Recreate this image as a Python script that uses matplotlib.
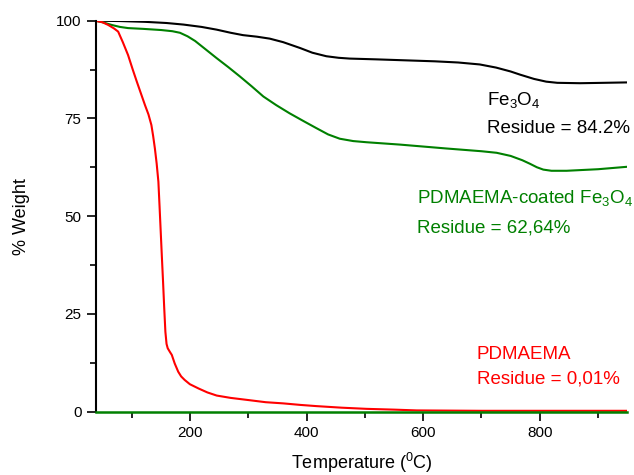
import matplotlib
matplotlib.use("Agg")
import matplotlib.pyplot as plt
from matplotlib.ticker import MultipleLocator

plt.rcParams['font.family'] = ['Liberation Sans', 'DejaVu Sans']
plt.rcParams['mathtext.fontset'] = 'custom'
plt.rcParams['mathtext.rm'] = 'Liberation Sans'
plt.rcParams['mathtext.it'] = 'Liberation Sans'

# Fe3O4 (black)
t_fe = [37, 80, 123, 160, 189, 220, 246, 270, 291, 315, 337, 360, 389, 410, 434, 455,
        474, 520, 560, 620, 660, 697, 725, 750, 766, 790, 811, 830, 869, 910, 948]
w_fe = [100, 99.9, 99.7, 99.4, 99.0, 98.4, 97.7, 96.9, 96.3, 95.9, 95.4, 94.5, 93.0,
        91.8, 90.9, 90.5, 90.3, 90.1, 89.9, 89.6, 89.3, 88.8, 88.0, 87.0, 86.2, 85.1,
        84.4, 84.1, 84.0, 84.1, 84.2]

# PDMAEMA-coated Fe3O4 (green)
t_co = [37, 50, 66, 80, 94, 120, 151, 170, 183, 196, 209, 225, 246, 266, 286, 306, 326,
        348, 371, 395, 417, 437, 457, 480, 503, 560, 640, 700, 726, 750, 770, 783, 795,
        806, 820, 846, 900, 948]
w_co = [100, 99.6, 98.9, 98.4, 98.1, 97.9, 97.6, 97.3, 96.9, 96.0, 94.8, 92.9, 90.4,
        88.1, 85.7, 83.2, 80.6, 78.4, 76.3, 74.3, 72.5, 70.9, 69.8, 69.2, 68.9, 68.3,
        67.3, 66.6, 66.2, 65.4, 64.3, 63.4, 62.5, 61.9, 61.6, 61.6, 62.0, 62.6]

# PDMAEMA (red)
t_pd = [37, 50, 60, 70, 77, 85, 94, 102, 109, 116, 123, 129, 134, 137, 140, 143, 146,
        148, 150, 152, 154, 156, 158, 160, 162, 166, 169, 174, 180, 185, 191, 200, 215,
        230, 246, 270, 303, 330, 360, 390, 417, 460, 503, 550, 589, 700, 948]
w_pd = [100, 99.6, 98.9, 98.0, 97.2, 94.5, 91.2, 87.5, 84.4, 81.4, 78.4, 76.0, 73.3,
        70.5, 67.3, 63.5, 58.8, 52.5, 46, 39.5, 33.2, 26.5, 20.4, 17.3, 16.2, 15.2,
        14.5, 12.3, 10.2, 9.0, 8.1, 7.0, 5.9, 4.9, 4.1, 3.5, 2.9, 2.4, 2.1, 1.7, 1.4,
        1.0, 0.7, 0.5, 0.3, 0.2, 0.2]

fig = plt.figure(figsize=(6.34, 4.75), dpi=100)
ax = fig.add_axes([0.1514, 0.1335, 0.838, 0.823])

ax.plot(t_fe, w_fe, color='black', lw=1.5)
ax.plot(t_co, w_co, color='#008000', lw=1.5)
ax.plot(t_pd, w_pd, color='#ff0000', lw=1.5)

ax.set_xlim(39, 950)
ax.set_ylim(0, 100)
ax.xaxis.set_major_locator(MultipleLocator(200))
ax.xaxis.set_minor_locator(MultipleLocator(100))
ax.yaxis.set_major_locator(MultipleLocator(25))
ax.yaxis.set_minor_locator(MultipleLocator(12.5))

for s in ['top', 'right']:
    ax.spines[s].set_visible(False)
ax.spines['left'].set_linewidth(1.5)
ax.spines['bottom'].set_linewidth(1.8)
ax.spines['bottom'].set_color('#008000')

ax.tick_params(which='major', length=6.5, width=1.2, labelsize=11, pad=4)
ax.tick_params(which='minor', length=4, width=1.2)

ax.set_xlabel('Temperature ($^{\\mathregular{0}}$C)', fontsize=13, labelpad=8)
ax.set_ylabel('% Weight', fontsize=13, labelpad=19)

ax.text(709, 79.7, 'Fe$_{\\mathregular{3}}$O$_{\\mathregular{4}}$', fontsize=13.5,
        color='black', va='center')
ax.text(709, 72.5, 'Residue = 84.2%', fontsize=13.5, color='black', va='center')
ax.text(589, 54.6, 'PDMAEMA-coated Fe$_{\\mathregular{3}}$O$_{\\mathregular{4}}$',
        fontsize=13.5, color='#008000', va='center')
ax.text(589, 46.9, 'Residue = 62,64%', fontsize=13.5, color='#008000', va='center')
ax.text(692, 14.5, 'PDMAEMA', fontsize=13.5, color='#ff0000', va='center')
ax.text(692, 8.3, 'Residue = 0,01%', fontsize=13.5, color='#ff0000', va='center')

fig.savefig('out.png', dpi=100)
